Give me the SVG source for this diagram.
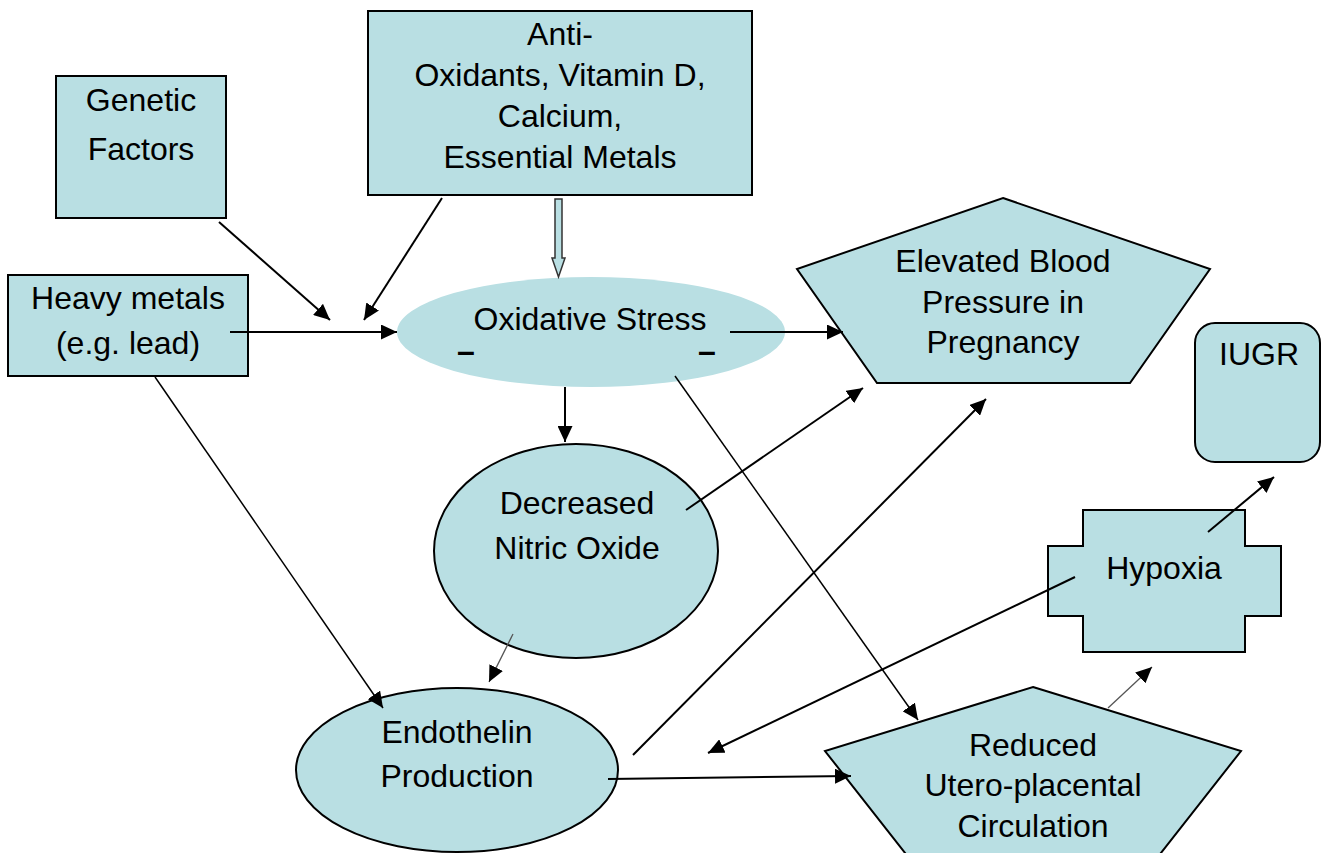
<svg xmlns="http://www.w3.org/2000/svg" width="1324" height="853" viewBox="0 0 1324 853">
<style>
.n{fill:#B9DFE3;stroke:#000;stroke-width:2}
.t{font-family:"Liberation Sans",Arial,sans-serif;font-size:32px;fill:#000;text-anchor:middle}
.c{fill:none;stroke:#000;stroke-width:2}
.c2{fill:none;stroke:#000;stroke-width:1.5}
.g{fill:none;stroke:#555;stroke-width:1.3}
</style>
<defs>
<marker id="arr" viewBox="0 0 16 15" refX="16" refY="7.5" markerWidth="16" markerHeight="15" markerUnits="userSpaceOnUse" orient="auto">
<path d="M0,0 L16,7.5 L0,15 z" fill="#000"/>
</marker>
</defs>
<rect width="1324" height="853" fill="#fff"/>
<g id="antioxidants">
<rect class="n" x="368" y="11" width="384" height="184"/>
<text class="t" x="560" y="45">Anti-</text>
<text class="t" x="560" y="86">Oxidants, Vitamin D,</text>
<text class="t" x="560" y="127">Calcium,</text>
<text class="t" x="560" y="168">Essential Metals</text>
</g>
<g id="genetic">
<rect class="n" x="56" y="76" width="170" height="142"/>
<text class="t" x="141" y="111">Genetic</text>
<text class="t" x="141" y="160">Factors</text>
</g>
<g id="heavymetals">
<rect class="n" x="8" y="275" width="240" height="101"/>
<text class="t" x="128" y="309">Heavy metals</text>
<text class="t" x="128" y="354">(e.g. lead)</text>
</g>
<g id="oxidative">
<ellipse cx="591" cy="332" rx="194" ry="55" fill="#B9DFE3"/>
<text class="t" x="590" y="330">Oxidative Stress</text>
<text class="t" x="466" y="362" style="font-weight:bold">–</text>
<text class="t" x="707" y="362" style="font-weight:bold">–</text>
</g>
<g id="elevated">
<polygon class="n" points="1003,198 1210,269 1130,383 877,383 797,269"/>
<text class="t" x="1003" y="272">Elevated Blood</text>
<text class="t" x="1003" y="313">Pressure in</text>
<text class="t" x="1003" y="353">Pregnancy</text>
</g>
<g id="iugr">
<rect class="n" x="1195" y="323" width="125" height="139" rx="20" ry="20"/>
<text class="t" x="1259" y="365">IUGR</text>
</g>
<g id="decreased">
<ellipse class="n" cx="576" cy="551" rx="142" ry="107"/>
<text class="t" x="577" y="514">Decreased</text>
<text class="t" x="577" y="559">Nitric Oxide</text>
</g>
<g id="hypoxia">
<polygon class="n" points="1083,510 1245,510 1245,546 1281,546 1281,616 1245,616 1245,652 1083,652 1083,616 1048,616 1048,546 1083,546"/>
<text class="t" x="1164" y="579">Hypoxia</text>
</g>
<g id="endothelin">
<ellipse class="n" cx="457" cy="770" rx="161" ry="82"/>
<text class="t" x="457" y="743">Endothelin</text>
<text class="t" x="457" y="787">Production</text>
</g>
<g id="reduced">
<polygon class="n" points="1033,687 1241,751 1146,872 920,872 825,751"/>
<text class="t" x="1033" y="756">Reduced</text>
<text class="t" x="1033" y="796">Utero-placental</text>
<text class="t" x="1033" y="837">Circulation</text>
</g>
<g id="connectors">
<line class="c" x1="219" y1="222" x2="330" y2="320" marker-end="url(#arr)"/>
<line class="c" x1="442" y1="198" x2="364" y2="320" marker-end="url(#arr)"/>
<line class="c" x1="230" y1="332" x2="397" y2="332" marker-end="url(#arr)"/>
<polygon points="555,199 562,199 562,258 565,258 558.5,277 552,258 555,258" fill="#B9DFE3" stroke="#333" stroke-width="1.5"/>
<line class="c" x1="730" y1="332" x2="843" y2="332" marker-end="url(#arr)"/>
<line class="c" x1="565" y1="387" x2="565" y2="442" marker-end="url(#arr)"/>
<line class="c" x1="686" y1="510" x2="863" y2="388" marker-end="url(#arr)"/>
<line class="c" x1="633" y1="755" x2="986" y2="399" marker-end="url(#arr)"/>
<line class="c2" x1="675" y1="376" x2="918" y2="720" marker-end="url(#arr)"/>
<line class="c2" x1="155" y1="377" x2="383" y2="708" marker-end="url(#arr)"/>
<line class="g" x1="513" y1="634" x2="489" y2="682" marker-end="url(#arr)"/>
<line class="c" x1="608" y1="779" x2="851" y2="776" marker-end="url(#arr)"/>
<line class="c" x1="1075" y1="577" x2="708" y2="753" marker-end="url(#arr)"/>
<line class="c" x1="1208" y1="532" x2="1274" y2="477" marker-end="url(#arr)"/>
<line class="g" x1="1108" y1="708" x2="1152" y2="667" marker-end="url(#arr)"/>
</g>
</svg>
